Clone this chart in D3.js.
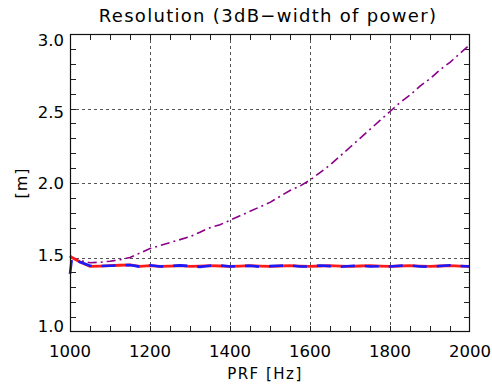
<!DOCTYPE html>
<html>
<head>
<meta charset="utf-8">
<script src="https://cdn.jsdelivr.net/npm/d3@7"></script>
<style>
  body { margin: 0; background: #fff; }
  text { font-family: "DejaVu Sans", "Liberation Sans", sans-serif; }
</style>
</head>
<body>
<svg id="chart" width="492" height="385"></svg>
<script>
// PRF sample points (Hz)
let prf = [1000, 1005, 1025, 1050, 1075, 1100, 1125, 1150, 1175, 1200, 1225, 1250, 1275, 1300,
  1325, 1350, 1375, 1400, 1425, 1450, 1475, 1500, 1525, 1550, 1575, 1600, 1625, 1650,
  1675, 1700, 1725, 1750, 1775, 1800, 1825, 1850, 1875, 1900, 1925, 1950, 1975, 2000];

let redRes = [1.51, 1.50, 1.47, 1.44, 1.442, 1.445, 1.448, 1.45, 1.44, 1.445, 1.44, 1.442, 1.445, 1.44,
  1.442, 1.445, 1.443, 1.44, 1.442, 1.445, 1.442, 1.44, 1.443, 1.445, 1.442, 1.44, 1.443, 1.445,
  1.442, 1.44, 1.443, 1.445, 1.442, 1.44, 1.443, 1.445, 1.442, 1.44, 1.443, 1.445, 1.442, 1.44];

let blueRes = [1.39, 1.50, 1.47, 1.445, 1.442, 1.445, 1.448, 1.45, 1.438, 1.448, 1.44, 1.442, 1.447, 1.443,
  1.437, 1.445, 1.447, 1.44, 1.442, 1.445, 1.438, 1.442, 1.445, 1.446, 1.44, 1.44, 1.446, 1.442,
  1.438, 1.443, 1.445, 1.44, 1.442, 1.44, 1.445, 1.446, 1.44, 1.438, 1.443, 1.448, 1.443, 1.44];

let purpleRes = [1.51, 1.50, 1.48, 1.465, 1.468, 1.475, 1.485, 1.50, 1.53, 1.56, 1.58, 1.60, 1.62, 1.64,
  1.67, 1.70, 1.72, 1.75, 1.78, 1.81, 1.84, 1.87, 1.91, 1.95, 1.98, 2.02, 2.07, 2.12,
  2.18, 2.24, 2.30, 2.36, 2.42, 2.48, 2.54, 2.59, 2.65, 2.70, 2.76, 2.81, 2.87, 2.93];

let xMajor = [1000, 1200, 1400, 1600, 1800, 2000];
let yMajor = [1.0, 1.5, 2.0, 2.5, 3.0];

let svg = d3.select("#chart");
let plotL = 70, plotR = 470, plotT = 34, plotB = 332;

let x = d3.scaleLinear().domain([1000, 2000]).range([plotL, plotR]);
let y = d3.scaleLinear().domain([1.0, 3.0]).range([plotB, plotT]);

// dashed grid at inner major ticks
svg.append("g").selectAll("line").data(xMajor.slice(1, -1)).join("line")
  .attr("x1", d => x(d) + 0.5).attr("x2", d => x(d) + 0.5)
  .attr("y1", plotT).attr("y2", plotB)
  .attr("stroke", "#555").attr("stroke-width", 1).attr("stroke-dasharray", "3,3");
svg.append("g").selectAll("line").data(yMajor.slice(1, -1)).join("line")
  .attr("x1", plotL).attr("x2", plotR)
  .attr("y1", d => Math.round(y(d)) + 0.5).attr("y2", d => Math.round(y(d)) + 0.5)
  .attr("stroke", "#555").attr("stroke-width", 1).attr("stroke-dasharray", "3,3");

// minor ticks on all four sides
let xMinor = d3.range(1050, 2000, 50);
let yMinor = d3.range(1.1, 2.95, 0.1);
let tl = 6;
let ticks = svg.append("g").attr("stroke", "#222").attr("stroke-width", 1);
xMinor.forEach(d => {
  let px = Math.round(x(d)) + 0.5;
  ticks.append("line").attr("x1", px).attr("x2", px).attr("y1", plotB).attr("y2", plotB - tl);
  ticks.append("line").attr("x1", px).attr("x2", px).attr("y1", plotT).attr("y2", plotT + tl);
});
yMinor.forEach(d => {
  let py = Math.round(y(d)) + 0.5;
  ticks.append("line").attr("x1", plotL).attr("x2", plotL + tl).attr("y1", py).attr("y2", py);
  ticks.append("line").attr("x1", plotR).attr("x2", plotR - tl).attr("y1", py).attr("y2", py);
});

// series
let line = d3.line().x((d, i) => x(prf[i])).y(d => y(d));

svg.append("path").datum(purpleRes).attr("d", line)
  .attr("fill", "none").attr("stroke", "#8b008b").attr("stroke-width", 1.6)
  .attr("stroke-dasharray", "9,4,2,4");
svg.append("path").datum(redRes).attr("d", line)
  .attr("fill", "none").attr("stroke", "#ff1a1a").attr("stroke-width", 2.8);
svg.append("path").datum(blueRes).attr("d", line)
  .attr("fill", "none").attr("stroke", "#1a1aff").attr("stroke-width", 2.6)
  .attr("stroke-dasharray", "14,10");

// frame
svg.append("rect").attr("x", plotL + 0.5).attr("y", plotT + 0.5)
  .attr("width", plotR - plotL - 1).attr("height", plotB - plotT - 1)
  .attr("fill", "none").attr("stroke", "#111").attr("stroke-width", 1.2);

// tick labels
svg.append("g").selectAll("text").data(xMajor).join("text")
  .attr("x", d => x(d)).attr("y", 357)
  .attr("text-anchor", "middle").attr("font-size", 16.5).attr("fill", "#000")
  .text(d => d);
svg.append("g").selectAll("text").data(yMajor).join("text")
  .attr("x", 64).attr("y", d => y(d) + 6 + (d - 2) * 6)
  .attr("text-anchor", "end").attr("font-size", 16.5).attr("fill", "#000")
  .text(d => d.toFixed(1));

// titles
svg.append("text").attr("x", 268).attr("y", 22).attr("text-anchor", "middle")
  .attr("font-size", 18).attr("letter-spacing", 1.3)
  .text("Resolution (3dB\u2212width of power)");
svg.append("text").attr("x", 265).attr("y", 379).attr("text-anchor", "middle")
  .attr("font-size", 15).attr("letter-spacing", 1.5).text("PRF [Hz]");
svg.append("text").attr("transform", "translate(27,183) rotate(-90)").attr("text-anchor", "middle")
  .attr("font-size", 16).attr("letter-spacing", 1).text("[m]");
</script>
</body>
</html>
